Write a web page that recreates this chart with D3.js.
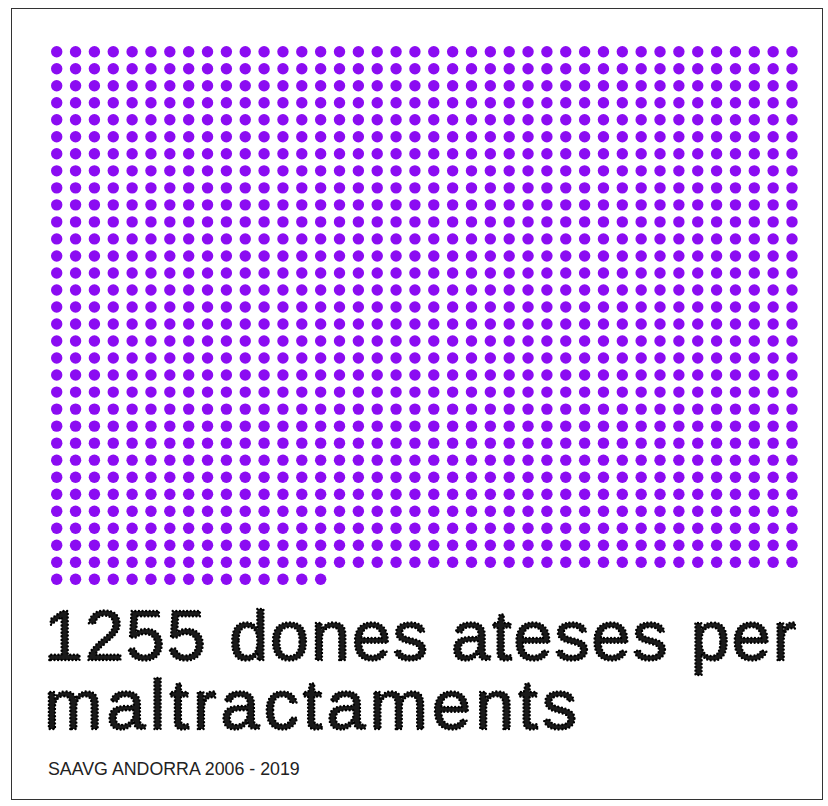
<!DOCTYPE html>
<html>
<head>
<meta charset="utf-8">
<script src="https://cdn.jsdelivr.net/npm/d3@7"></script>
<style>
  html, body { margin: 0; padding: 0; background: #fff; }
  svg { display: block; }
</style>
</head>
<body>
<svg id="chart" width="828" height="806"></svg>
<script>
// ---- data ----
const totalWomen = [1255];
const columnsPerRow = [40];
const titleLines = ["1255 dones ateses per", "maltractaments"];
const sourceLabel = ["SAAVG ANDORRA 2006 - 2019"];

// ---- chart ----
const svg = d3.select("#chart");

svg.append("rect")
  .attr("x", 11.5).attr("y", 8.5)
  .attr("width", 811).attr("height", 791)
  .attr("fill", "#fff")
  .attr("stroke", "#333").attr("stroke-width", 1);

const n = totalWomen[0];
const cols = columnsPerRow[0];
const rows = Math.ceil(n / cols);
const dots = d3.range(n).map(i => ({ col: i % cols, row: Math.floor(i / cols) }));

const x = d3.scaleLinear().domain([0, cols - 1]).range([56.7, 792]);
const y = d3.scaleLinear().domain([0, rows - 1]).range([51.7, 579.3]);

svg.append("g")
  .selectAll("circle")
  .data(dots)
  .join("circle")
  .attr("cx", d => x(d.col))
  .attr("cy", d => y(d.row))
  .attr("r", 5.7)
  .attr("fill", "#8b0cf2");

// title: dark glyphs with a beaded (dotted) edge, like the reference
const titleWidths = [752, 533];
svg.append("g")
  .selectAll("text")
  .data(titleLines)
  .join("text")
  .attr("x", 44)
  .attr("y", (d, i) => 660 + i * 69)
  .attr("font-family", "'Liberation Sans', Arial, sans-serif")
  .attr("font-size", 70)
  .attr("textLength", (d, i) => titleWidths[i])
  .attr("lengthAdjust", "spacing")
  .attr("fill", "#1a1a1a")
  .attr("stroke", "#000")
  .attr("stroke-width", 2.4)
  .attr("stroke-linecap", "round")
  .attr("stroke-linejoin", "round")
  .attr("stroke-dasharray", "0 3.6")
  .text(d => d);

svg.append("text")
  .attr("x", 48)
  .attr("y", 775)
  .attr("font-family", "'Liberation Sans', Arial, sans-serif")
  .attr("font-size", 17.8)
  .attr("fill", "#222")
  .text(sourceLabel[0]);
</script>
</body>
</html>
